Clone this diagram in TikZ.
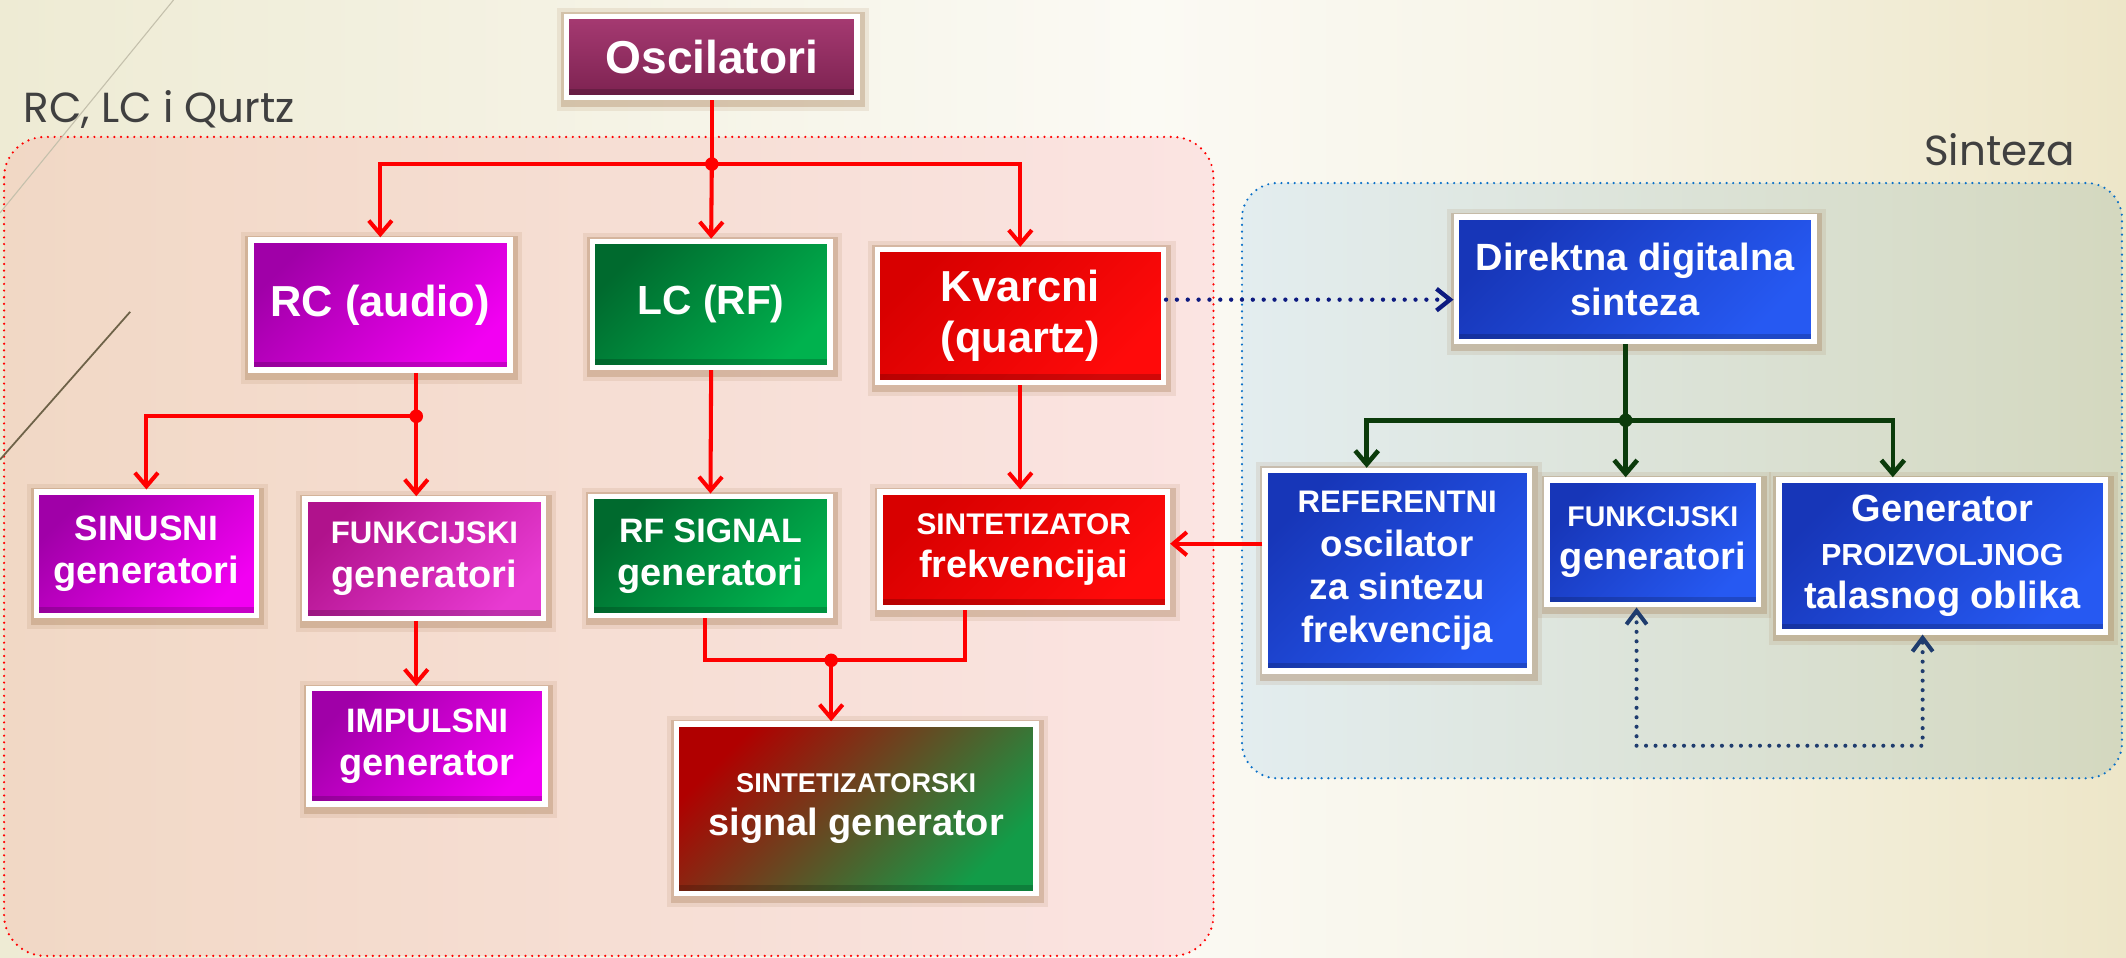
\documentclass[tikz,border=0pt]{standalone}
\usepackage{fontspec}
\setmainfont{Liberation Sans}
\newfontfamily\popfont{Poppins}
\usetikzlibrary{arrows.meta,calc}
\newcommand\myfs[2]{\fontsize{#1}{#2}\selectfont}
\definecolor{bgL}{HTML}{EEEBD4}
\definecolor{bgM}{HTML}{FBFAF4}
\definecolor{bgR}{HTML}{EDE6C8}
\definecolor{lcL}{HTML}{F1D8C5}
\definecolor{lcR}{HTML}{FBE4E2}
\definecolor{rcL}{HTML}{E3EDEF}
\definecolor{rcR}{HTML}{D4D8BF}
\definecolor{glow}{HTML}{9C7044}
\definecolor{magA}{HTML}{A000A8}
\definecolor{magB}{HTML}{F200F2}
\definecolor{pinkA}{HTML}{B0128C}
\definecolor{pinkB}{HTML}{E83AD2}
\definecolor{grnA}{HTML}{006A2E}
\definecolor{grnB}{HTML}{00B24E}
\definecolor{redA}{HTML}{D80000}
\definecolor{redB}{HTML}{FF0A0A}
\definecolor{bluA}{HTML}{1736B8}
\definecolor{bluB}{HTML}{2659F2}
\definecolor{oscA}{HTML}{A63A72}
\definecolor{oscB}{HTML}{7C2250}
\definecolor{sgA}{HTML}{B00000}
\definecolor{sgM}{HTML}{DE0800}
\definecolor{sgB}{HTML}{129C48}
\definecolor{lnred}{HTML}{FF0000}
\definecolor{lngrn}{HTML}{0B3B0B}
\definecolor{lnnavy}{HTML}{0D1A80}
\definecolor{lnblue}{HTML}{1F3C6E}
\definecolor{cred}{HTML}{FF0000}
\definecolor{cblue}{HTML}{0A70C8}
\definecolor{lblgray}{HTML}{404040}
\pgfdeclarehorizontalshading{bgshade}{100bp}{color(0bp)=(bgL); color(25bp)=(bgL); color(52bp)=(bgM); color(62bp)=(bgM!70!bgR); color(75bp)=(bgR); color(100bp)=(bgR)}
\begin{document}
\begin{tikzpicture}[x=1pt,y=-1pt,
  box/.style={draw=white, line width=4pt, inner sep=0pt, align=center, text=white,
    font=\bfseries\myfs{27}{32},
    preaction={draw=glow, line width=16pt, opacity=0.12, transform canvas={xshift=1pt,yshift=-2pt}},
    preaction={draw=glow, line width=10pt, opacity=0.28, transform canvas={xshift=1pt,yshift=-2pt}},
    path picture={\fill[black,opacity=0.18] (path picture bounding box.south west) rectangle ([yshift=6pt]path picture bounding box.south east);}},
  mag/.style={top color=magA, bottom color=magB, shading angle=45},
  pink/.style={top color=pinkA, bottom color=pinkB, shading angle=45},
  grn/.style={top color=grnA, bottom color=grnB, shading angle=45},
  rd/.style={top color=redA, bottom color=redB, shading angle=45},
  blu/.style={top color=bluA, bottom color=bluB, shading angle=45},
  oscf/.style={top color=oscA, bottom color=oscB},
  sgf/.style={top color=sgA, middle color=sgM, bottom color=sgB, shading angle=45},
  redline/.style={draw=lnred, line width=3pt},
  redarrow/.style={redline, -{Straight Barb[length=10pt,width=17pt]}},
  grnline/.style={draw=lngrn, line width=3.4pt},
  grnarrow/.style={grnline, -{Straight Barb[length=10pt,width=17pt]}},
  navydot/.style={draw=lnnavy, line width=3.2pt, line cap=round, dash pattern=on 0pt off 8pt, -{Straight Barb[length=10pt,width=16pt]}},
  bluedot/.style={draw=lnblue, line width=3pt, line cap=round, dash pattern=on 0pt off 7pt, {Straight Barb[length=10pt,width=15pt]}-{Straight Barb[length=10pt,width=15pt]}},
  reddot/.style={draw=cred, line width=1.8pt, line cap=round, dash pattern=on 0pt off 4.9pt},
  bluecont/.style={draw=cblue, line width=1.8pt, line cap=round, dash pattern=on 0pt off 4.9pt},
  lbl/.style={text=lblgray, font=\popfont\myfs{31}{36}}
]
\useasboundingbox (0,0) rectangle (1568,706);
% background
\shade[shading=bgshade] (0,0) rectangle (1568,706);
% containers
\path[reddot, left color=lcL, right color=lcR, rounded corners=30pt] (3,101) rectangle (895,705);
\path[bluecont, left color=rcL, right color=rcR, rounded corners=26pt] (916,135) rectangle (1565,574);
% decorative strokes
\draw[draw={rgb,255:red,196;green,192;blue,172}, line width=0.8pt] (128,0) -- (0,157);
\draw[draw={rgb,255:red,110;green,98;blue,72}, line width=1.3pt] (96,230) -- (0,339);
\node[lbl, anchor=base west] (lblA) at (14,90) {RC, LC i Qurtz};
\node[lbl, anchor=base east] (lblB) at (1534,122) {Sinteza};
% boxes
\node[box, oscf, minimum width=214pt, minimum height=60pt] (osc) at (525,42) {\myfs{34}{40}Oscilatori};
\node[box, mag, minimum width=191pt, minimum height=96pt] (rc) at (280.5,225) {\myfs{32}{38}RC (audio)};
\node[box, grn, minimum width=175pt, minimum height=93pt] (lc) at (524.5,224.5) {\myfs{30}{36}LC (RF)};
\node[box, rd, minimum width=211pt, minimum height=98pt, font=\bfseries\myfs{32}{38}] (kv) at (752.5,233) {Kvarcni\\(quartz)};
\node[box, blu, minimum width=264pt, minimum height=92pt, font=\bfseries\myfs{28}{33}] (dds) at (1206,206) {Direktna digitalna\\sinteza};
\node[box, mag, minimum width=162pt, minimum height=91pt] (sinus) at (108,408.5) {{\myfs{26}{32}SINUSNI}\\{\myfs{28}{32}generatori}};
\node[box, pink, minimum width=176pt, minimum height=88pt] (funkM) at (313,412) {{\myfs{23}{32}FUNKCIJSKI}\\{\myfs{28}{32}generatori}};
\node[box, grn, minimum width=176pt, minimum height=88pt] (rfsig) at (524,410) {{\myfs{25}{32}RF SIGNAL}\\{\myfs{28}{32}generatori}};
\node[box, rd, minimum width=212pt, minimum height=85pt] (sintF) at (755,405.5) {{\myfs{22}{32}SINTETIZATOR}\\{\myfs{28}{32}frekvencijai}};
\node[box, mag, minimum width=174pt, minimum height=85pt] (imp) at (315,550.5) {{\myfs{25}{32}IMPULSNI}\\{\myfs{28}{32}generator}};
\node[box, sgf, minimum width=265pt, minimum height=125pt] (sintS) at (631.5,596.5) {{\myfs{20}{32}SINTETIZATORSKI}\\{\myfs{28}{32}signal generator}};
\node[box, blu, minimum width=195pt, minimum height=148pt] (ref) at (1030.5,421) {{\myfs{23}{32}REFERENTNI}\\oscilator\\za sintezu\\frekvencija};
\node[box, blu, minimum width=156pt, minimum height=92pt] (funkB) at (1219,400) {{\myfs{21}{32}FUNKCIJSKI}\\{\myfs{28}{32}generatori}};
\node[box, blu, minimum width=241pt, minimum height=112pt] (gen) at (1432.5,410) {{\myfs{28}{32}Generator}\\{\myfs{22.5}{32}PROIZVOLJNOG}\\{\myfs{28}{32}talasnog oblika}};
% coordinates
\coordinate (j1) at (525,121);
\coordinate (j2) at (307,307);
\coordinate (j3) at (613,487);
\coordinate (j4) at (1199,310);
\coordinate (cA) at (520,0);
\coordinate (cB) at (712,0);
\coordinate (c1) at (1008,0);
\coordinate (c2) at (1396,0);
\coordinate (c3) at (1207,550);
\coordinate (c4) at (1418,550);
% red connectors
\draw[redline] (osc.south) -- (j1);
\draw[redarrow] (j1) -| (rc.north);
\draw[redarrow] (j1) -- (lc.north);
\draw[redarrow] (j1) -| (kv.north);
\fill[lnred] (j1) circle (5pt);
\draw[redline] (rc.south -| j2) -- (j2);
\draw[redarrow] (j2) -| (sinus.north);
\draw[redarrow] (j2) -- (funkM.north -| j2);
\fill[lnred] (j2) circle (5pt);
\draw[redarrow] (lc.south) -- (rfsig.north);
\draw[redarrow] (kv.south) -- (kv.south |- sintF.north);
\draw[redarrow] (funkM.south -| j2) -- (imp.north -| j2);
\draw[redline] (rfsig.south -| cA) |- (j3) -| (sintF.south -| cB);
\draw[redarrow] (j3) -- (j3 |- sintS.north);
\fill[lnred] (j3) circle (5pt);
\draw[redarrow] ([yshift=20pt]ref.west) -- ([yshift=20pt]ref.west -| sintF.east);
% navy dotted
\draw[navydot] ([yshift=12pt]kv.east) -- ([yshift=12pt]kv.east -| dds.west);
% green connectors
\draw[grnline] (dds.south -| j4) -- (j4);
\draw[grnarrow] (j4) -| (ref.north -| c1);
\draw[grnarrow] (j4) -- (funkB.north -| j4);
\draw[grnarrow] (j4) -| (gen.north -| c2);
\fill[lngrn] (j4) circle (5pt);
% blue dotted loop
\draw[bluedot] (funkB.south -| c3) -- (c3) -- (c4) -- (gen.south -| c4);
\end{tikzpicture}
\end{document}
